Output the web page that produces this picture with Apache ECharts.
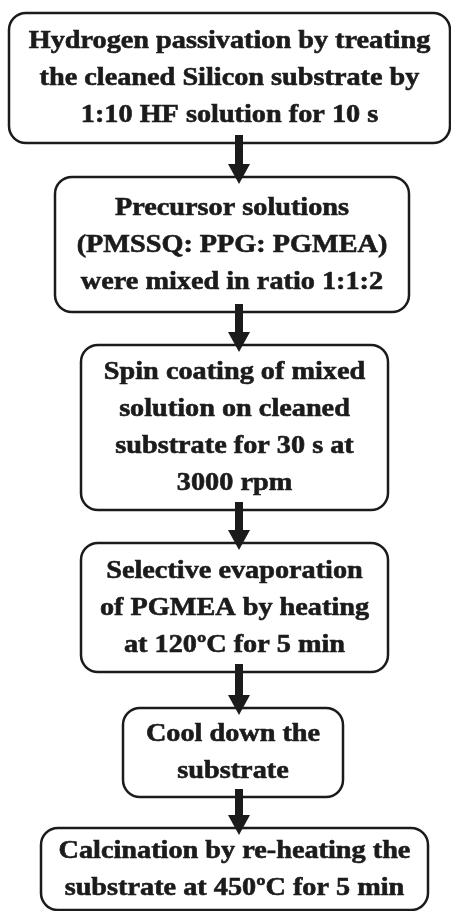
<!DOCTYPE html>
<html>
<head>
<meta charset="utf-8">
<script src="https://cdn.jsdelivr.net/npm/echarts@6/dist/echarts.min.js"></script>
<style>
html,body{margin:0;padding:0;background:#fff;}
#chart{width:451px;height:911px;}
</style>
</head>
<body>
<div id="chart"></div>
<script>
// Flowchart steps (text content, one entry per line)
const steps = [
  ['Hydrogen passivation by treating', 'the cleaned Silicon substrate by', '1:10 HF solution for 10 s'],
  ['Precursor solutions', '(PMSSQ: PPG: PGMEA)', 'were mixed in ratio 1:1:2'],
  ['Spin coating of mixed', 'solution on cleaned', 'substrate for 30 s at', '3000 rpm'],
  ['Selective evaporation', 'of PGMEA by heating', 'at 120ºC for 5 min'],
  ['Cool down the', 'substrate'],
  ['Calcination by re-heating the', 'substrate at 450ºC for 5 min']
];
// Box extents in a 451 x 911 layout space: [left, right, top, bottom]
const boxLeft   = [9, 55, 81, 81, 123, 41];
const boxRight  = [450, 409, 388, 388, 343, 428];
const boxTop    = [13, 177, 345, 543, 708, 828];
const boxBottom = [143, 312, 510, 672, 797, 910];
const arrowX = 239;

const ink = '#1b1b1b';
const chart = echarts.init(document.getElementById('chart'));

const boxData = steps.map((s, i) => [i]);
const arrowData = steps.slice(1).map((s, i) => [i]);

chart.setOption({
  animation: false,
  backgroundColor: '#ffffff',
  grid: { left: 0, right: 0, top: 0, bottom: 0 },
  xAxis: { type: 'value', min: 0, max: 451, show: false },
  yAxis: { type: 'value', min: 0, max: 911, inverse: true, show: false },
  series: [
    {
      type: 'custom',
      coordinateSystem: 'cartesian2d',
      data: arrowData,
      z: 1,
      renderItem: function (params, api) {
        const i = api.value(0);
        const top = api.coord([arrowX, boxBottom[i] - 8]);
        const headTop = api.coord([arrowX, boxTop[i + 1] - 13]);
        const tip = api.coord([arrowX, boxTop[i + 1] + 7]);
        const half = api.size([11, 0])[0];
        const shaft = api.size([4, 0])[0];
        return {
          type: 'group',
          children: [
            { type: 'rect', shape: { x: top[0] - shaft, y: top[1], width: shaft * 2, height: headTop[1] - top[1] + 1 }, style: { fill: ink } },
            { type: 'polygon', shape: { points: [[headTop[0] - half, headTop[1]], [headTop[0] + half, headTop[1]], [tip[0], tip[1]]] }, style: { fill: ink } }
          ]
        };
      }
    },
    {
      type: 'custom',
      coordinateSystem: 'cartesian2d',
      data: boxData,
      z: 2,
      renderItem: function (params, api) {
        const i = api.value(0);
        const p0 = api.coord([boxLeft[i], boxTop[i]]);
        const p1 = api.coord([boxRight[i], boxBottom[i]]);
        return {
          type: 'group',
          children: [
            { type: 'rect', shape: { x: p0[0], y: p0[1], width: p1[0] - p0[0], height: p1[1] - p0[1], r: 17 }, style: { fill: 'rgba(255,255,255,0)', stroke: ink, lineWidth: 2.5 } },
            { type: 'text', x: (p0[0] + p1[0]) / 2, y: (p0[1] + p1[1]) / 2 + 1, scaleX: 1.13, style: {
                text: steps[i].join('\n'), fill: ink, stroke: ink, lineWidth: 0.6, align: 'center', verticalAlign: 'middle',
                font: 'bold 25px "Liberation Serif", "Times New Roman", serif', lineHeight: 37 } }
          ]
        };
      }
    }
  ]
});
</script>
</body>
</html>
